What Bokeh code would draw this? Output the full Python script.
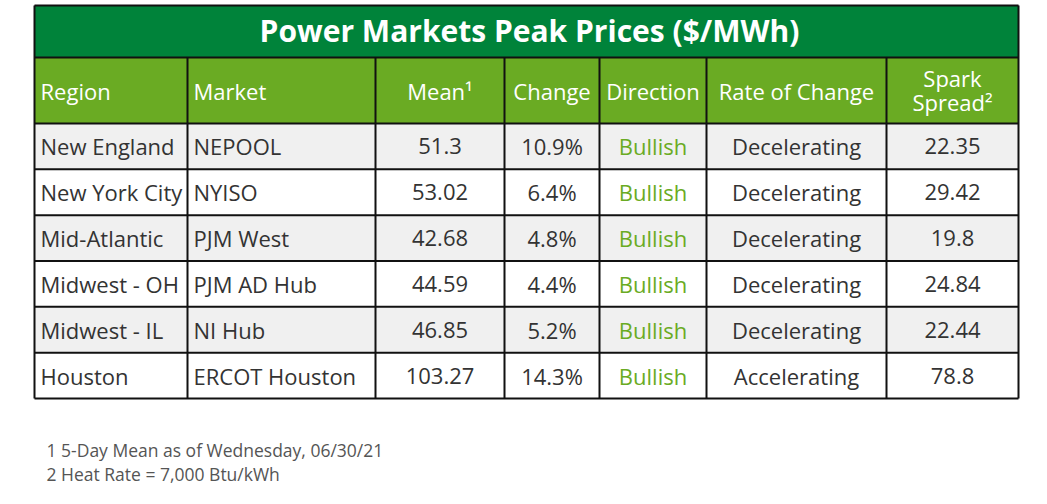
from bokeh.plotting import figure
from bokeh.models import Range1d, ColumnDataSource
from bokeh.core.properties import value
from bokeh.embed import file_html
from bokeh.resources import INLINE

# ---- data ----
title = "Power Markets Peak Prices ($/MWh)"
headers = ["Region", "Market", "Mean\u00b9", "Change", "Direction", "Rate of Change", "Spark\nSpread\u00b2"]
regions = ["New England", "New York City", "Mid-Atlantic", "Midwest - OH", "Midwest - IL", "Houston"]
markets = ["NEPOOL", "NYISO", "PJM West", "PJM AD Hub", "NI Hub", "ERCOT Houston"]
means = ["51.3", "53.02", "42.68", "44.59", "46.85", "103.27"]
changes = ["10.9%", "6.4%", "4.8%", "4.4%", "5.2%", "14.3%"]
directions = ["Bullish", "Bullish", "Bullish", "Bullish", "Bullish", "Bullish"]
rates = ["Decelerating", "Decelerating", "Decelerating", "Decelerating", "Decelerating", "Accelerating"]
spreads = ["22.35", "29.42", "19.8", "24.84", "22.44", "78.8"]
footnotes = ["1 5-Day Mean as of Wednesday, 06/30/21", "2 Heat Rate = 7,000 Btu/kWh"]

# ---- layout (pixel coordinates of page) ----
col_edges = [34, 187, 375, 504, 599, 706, 886, 1018]
title_top, title_bot = 5, 57
head_bot = 123
row_h = (398 - head_bot) / 6.0
row_edges = [head_bot + i * row_h for i in range(7)]
aligns = ["left", "left", "center", "center", "center", "center", "center"]

FONT = value("Open Sans")
TITLE_BG = "#00833a"
HEAD_BG = "#6aab23"
GRAY = "#f0f0f0"
TXT = "#333333"
GREEN_TXT = "#6aab23"
BODY_SIZE = "22px"

W, H = 1031, 488
p = figure(width=W, height=H, output_backend="svg", toolbar_location=None,
           x_range=Range1d(0, W), y_range=Range1d(H, 0),
           min_border=0, outline_line_color=None)
p.axis.visible = False
p.grid.visible = False
p.background_fill_color = "white"
p.border_fill_color = "white"

# title band
p.quad(left=[col_edges[0]], right=[col_edges[-1]], top=[title_top], bottom=[title_bot],
       fill_color=TITLE_BG, line_color=None)
# header band
p.quad(left=[col_edges[0]], right=[col_edges[-1]], top=[title_bot], bottom=[head_bot],
       fill_color=HEAD_BG, line_color=None)
# row bands
p.quad(left=[col_edges[0]] * 6, right=[col_edges[-1]] * 6,
       top=row_edges[:-1], bottom=row_edges[1:],
       fill_color=[GRAY if i % 2 == 0 else "white" for i in range(6)], line_color=None)

# grid lines
hx0, hx1, hy0, hy1 = [], [], [], []
for y in [title_top, title_bot, head_bot] + row_edges[1:]:
    hx0.append(col_edges[0]); hx1.append(col_edges[-1]); hy0.append(y); hy1.append(y)
p.segment(x0=hx0, x1=hx1, y0=hy0, y1=hy1, line_color="#111111", line_width=2)
vx, vy0, vy1 = [], [], []
for i, x in enumerate(col_edges):
    if i == 0 or i == len(col_edges) - 1:
        vx.append(x); vy0.append(title_top); vy1.append(row_edges[-1])
    else:
        vx.append(x); vy0.append(title_bot); vy1.append(row_edges[-1])
p.segment(x0=vx, x1=vx, y0=vy0, y1=vy1, line_color="#111111", line_width=2)

# title text
p.text(x=[(col_edges[0] + col_edges[-1]) / 2 + 3], y=[(title_top + title_bot) / 2 - 1], text=[title],
       text_font=FONT, text_font_style="bold", text_font_size="30px", text_color="white",
       text_align="center", text_baseline="middle")

def xpos(ci):
    if aligns[ci] == "left":
        return col_edges[ci] + 6
    return (col_edges[ci] + col_edges[ci + 1]) / 2

# header text
for ci, h in enumerate(headers):
    if "\n" in h:
        lines = h.split("\n")
        p.text(x=[xpos(ci)] * 2, y=[(title_bot + head_bot) / 2 - 13, (title_bot + head_bot) / 2 + 11],
               text=lines, text_font=FONT, text_font_size=BODY_SIZE, text_color="white",
               text_align=aligns[ci], text_baseline="middle")
    else:
        p.text(x=[xpos(ci)], y=[(title_bot + head_bot) / 2], text=[h],
               text_font=FONT, text_font_size=BODY_SIZE, text_color="white",
               text_align=aligns[ci], text_baseline="middle")

# body text
cols = [regions, markets, means, changes, directions, rates, spreads]
for ci, col in enumerate(cols):
    ys = [(row_edges[r] + row_edges[r + 1]) / 2 for r in range(6)]
    src = ColumnDataSource(dict(x=[xpos(ci)] * 6, y=ys, t=col))
    p.text(x="x", y="y", text="t", source=src, text_font=FONT, text_font_size=BODY_SIZE,
           text_color=GREEN_TXT if ci == 4 else TXT,
           text_align=aligns[ci], text_baseline="middle")

# footnotes
p.text(x=[46, 46], y=[449, 473], text=footnotes, text_font=FONT, text_font_size="17.5px",
       text_color="#555555", text_align="left", text_baseline="middle")

open("out.html", "w").write(file_html(p, INLINE))
